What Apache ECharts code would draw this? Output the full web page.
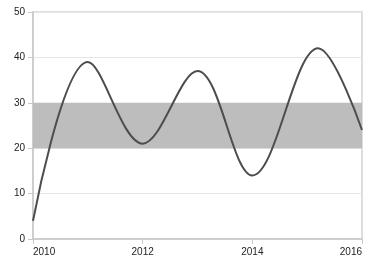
<!DOCTYPE html>
<html><head><meta charset="utf-8">
<script src="https://cdn.jsdelivr.net/npm/echarts@6/dist/echarts.min.js"></script>
<style>html,body{margin:0;padding:0;background:#fff}#c{width:382px;height:267px}</style>
</head><body><div id="c"></div>
<script>
var years = [2010, 2011, 2012, 2013, 2014, 2015.2, 2016];
var values = [4, 39, 21, 37, 14, 42, 24];
var bandFrom = 20, bandTo = 30;
var yTicks = [0, 10, 20, 30, 40, 50];

var chart = echarts.init(document.getElementById('c'));
chart.setOption({
  animation: false,
  grid: {left: 33, right: 20, top: 12, bottom: 28, show: true, borderColor: '#d4d4d4', borderWidth: 1.5, backgroundColor: 'transparent'},
  xAxis: {
    type: 'value', min: 2010, max: 2016, interval: 2,
    axisLine: {show: true, lineStyle: {color: '#c8c8c8', width: 1.5}},
    axisTick: {show: true, length: 5, lineStyle: {color: '#c8c8c8'}},
    splitLine: {show: false},
    axisLabel: {color: '#222', fontSize: 10, fontFamily: 'Liberation Sans', margin: 8,
      alignMinLabel: 'left', alignMaxLabel: 'right', formatter: function(v){return String(v);}}
  },
  yAxis: {
    type: 'value', min: yTicks[0], max: yTicks[yTicks.length-1], interval: 10,
    axisLine: {show: true, lineStyle: {color: '#c8c8c8', width: 1.5}},
    axisTick: {show: true, length: 5, lineStyle: {color: '#c8c8c8'}},
    splitLine: {show: true, lineStyle: {color: '#e6e6e6', width: 1}},
    axisLabel: {color: '#222', fontSize: 10, fontFamily: 'Liberation Sans', margin: 8}
  },
  series: [{
    type: 'line',
    data: years.map(function(y, i){return [y, values[i]];}),
    smooth: 0.36,
    showSymbol: false,
    lineStyle: {color: '#4d4d4d', width: 2},
    z: 3,
    markArea: {
      silent: true,
      itemStyle: {color: '#bdbdbd'},
      data: [[{yAxis: bandFrom}, {yAxis: bandTo}]]
    }
  }]
});
</script></body></html>
